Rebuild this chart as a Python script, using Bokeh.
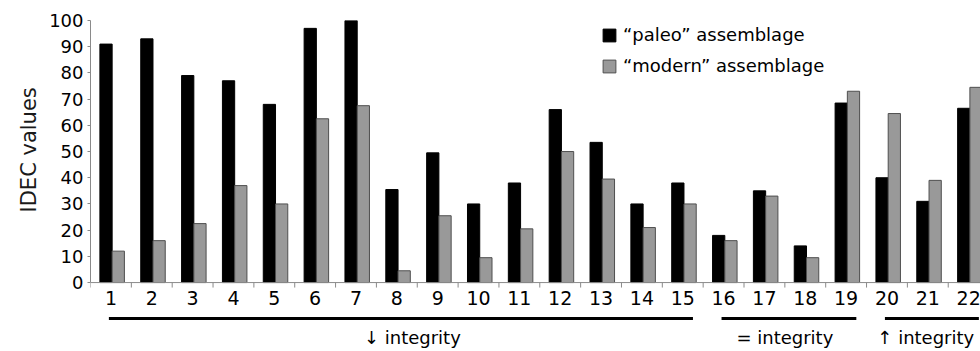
from bokeh.plotting import figure
from bokeh.models import (Range1d, FixedTicker, Legend, LegendItem, ColumnDataSource, Title)
from bokeh.core.properties import value
from bokeh.transform import dodge
from bokeh.embed import file_html
from bokeh.resources import INLINE

# ---- data ----
categories = list(range(1, 23))
paleo = [91, 93, 79, 77, 68, 97, 100, 35.5, 49.5, 30, 38, 66, 53.5, 30, 38, 18, 35, 14, 68.5, 40, 31, 66.5]
modern = [12, 16, 22.5, 37, 30, 62.5, 67.5, 4.5, 25.5, 9.5, 20.5, 50, 39.5, 21, 30, 16, 33, 9.5, 73, 64.5, 39, 74.5]
y_ticks = [0, 10, 20, 30, 40, 50, 60, 70, 80, 90, 100]
group_labels = ["\u2193 integrity", "= integrity", "\u2191 integrity"]
group_start = [1, 16, 20]
group_end = [15, 19, 22]

# ---- style ----
FONT = "DejaVu Sans"
GREY_AXIS = "#8a8a8a"
label_nudge = [0.38, 0.0, -0.05]

p = figure(width=980, height=351, output_backend="svg", toolbar_location=None,
           x_range=Range1d(0.5, 22.29), y_range=Range1d(-26.3, 100),
           x_axis_location=None, min_border_left=90, min_border_right=0,
           min_border_top=20, min_border_bottom=0)
p.outline_line_color = None
p.xgrid.visible = False
p.ygrid.visible = False
p.background_fill_color = "white"
p.border_fill_color = "white"

# y axis
ax = p.yaxis[0]
ax.bounds = (0, 100)
ax.ticker = FixedTicker(ticks=y_ticks)
ax.minor_tick_line_color = None
ax.major_tick_out = 3
ax.major_tick_in = 0
ax.major_label_standoff = 4
ax.axis_line_color = GREY_AXIS
ax.major_tick_line_color = GREY_AXIS
ax.major_label_text_font = FONT
ax.major_label_text_font_size = "18px"
ax.major_label_text_color = "black"

p.add_layout(Title(text="IDEC values", text_font=FONT, text_font_size="21px",
                   text_font_style="normal", text_color="#1a1a1a",
                   align="left", offset=139, standoff=11), "left")

# bars
src = ColumnDataSource(dict(x=categories, paleo=paleo, modern=modern))
r1 = p.vbar(x=dodge("x", -0.12), top="paleo", width=0.3, source=src,
            fill_color="black", line_color="black", line_width=1)
r2 = p.vbar(x=dodge("x", 0.18), top="modern", width=0.3, source=src,
            fill_color="#999999", line_color="#4f4f4f", line_width=1)

# x axis drawn in the frame
p.segment(x0=[0.5], y0=[0], x1=[22.29], y1=[0], line_color=GREY_AXIS, line_width=1)
bounds = [c - 0.5 for c in categories]
p.segment(x0=bounds, y0=[0] * len(bounds), x1=bounds, y1=[-1.9] * len(bounds),
          line_color=GREY_AXIS, line_width=1)
p.text(x=categories, y=[-5.9] * len(categories), text=[str(c) for c in categories],
       text_align="center", text_baseline="middle", text_font=value(FONT),
       text_font_size="19px", text_color="black")

# group lines and labels
gx0 = [s - 0.05 for s in group_start]
gx1 = [e + 0.25 for e in group_end]
p.segment(x0=gx0, y0=[-13.7] * 3, x1=gx1, y1=[-13.7] * 3, line_color="black", line_width=3)
gmid = [(s + e) / 2 + n for s, e, n in zip(group_start, group_end, label_nudge)]
p.text(x=gmid, y=[-21.0] * 3, text=group_labels, text_align="center", text_baseline="middle",
       text_font=value(FONT), text_font_size="18px", text_color="black")

legend = Legend(items=[LegendItem(label="\u201cpaleo\u201d assemblage", renderers=[r1]),
                       LegendItem(label="\u201cmodern\u201d assemblage", renderers=[r2])],
                location=(511, 275), glyph_width=16, glyph_height=16,
                label_text_font=FONT, label_text_font_size="18px", label_standoff=6,
                label_text_color="black",
                spacing=10, padding=0, margin=0, border_line_alpha=0, background_fill_alpha=0)
p.add_layout(legend, "center")

open("out.html", "w").write(file_html(p, INLINE))
